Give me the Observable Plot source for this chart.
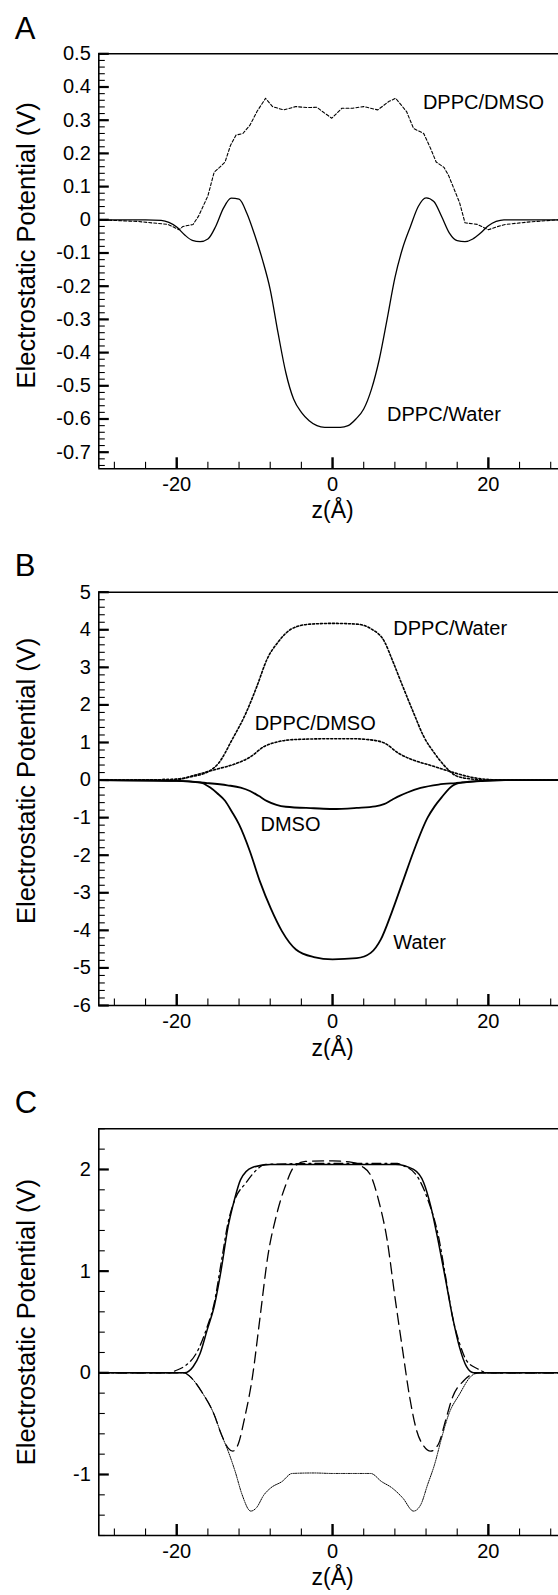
<!DOCTYPE html>
<html><head><meta charset="utf-8">
<script src="https://cdn.jsdelivr.net/npm/d3@7"></script>
<script src="https://cdn.jsdelivr.net/npm/@observablehq/plot@0.6"></script>
<style>
html,body{margin:0;padding:0;background:#fff;}
#wrap{position:relative;width:558px;height:1595px;overflow:hidden;background:#fff;}
.panel{position:absolute;left:0;}
</style></head><body><div id="wrap"></div>
<script>
// ---------- shared ----------
const xDomain = [-30, 29];
const xTicks = [-20, 0, 20];
const xMinor = [-28, -24, -20, -16, -12, -8, -4, 0, 4, 8, 12, 16, 20, 24, 28];
const yTitle = "Electrostatic Potential (V)";
const xTitle = "z(Å)";

// ---------- Panel A ----------
const yTicksA = [0.5, 0.4, 0.3, 0.2, 0.1, 0, -0.1, -0.2, -0.3, -0.4, -0.5, -0.6, -0.7];
const zWaterA = [-30,-24,-22,-21,-20,-19,-18,-17,-16,-15,-14,-13,-12,-11,-10,-9,-8,-7,-6,-5,-4,-3,-2,-1,0,1,2,3,4,5,6,7,8,9,10,11,12,13,14,15,16,17,18,19,20,21,22,24,29];
const vWaterA = [0,0,-0.002,-0.008,-0.022,-0.045,-0.062,-0.066,-0.058,-0.02,0.035,0.065,0.062,0.02,-0.045,-0.12,-0.21,-0.34,-0.46,-0.54,-0.58,-0.605,-0.62,-0.625,-0.625,-0.625,-0.62,-0.6,-0.57,-0.51,-0.42,-0.3,-0.175,-0.085,-0.02,0.04,0.066,0.055,0.01,-0.04,-0.063,-0.066,-0.058,-0.04,-0.018,-0.005,0,0,0];
const zDmsoA = [-30,-25,-21.1,-19.7,-19.2,-17.9,-17.2,-16.0,-15.2,-14.5,-13.8,-13.1,-12.4,-11.5,-10.6,-9.7,-8.6,-7.7,-6.3,-4.7,-3.3,-2.0,-1.3,-0.1,1.2,2.6,4.0,5.8,7.2,8.1,9.5,10.4,11.7,12.6,13.3,14.3,14.9,16.3,17.0,18.6,20.0,21.1,22.2,25,29];
const vDmsoA = [0,-0.005,-0.014,-0.03,-0.02,-0.014,0.011,0.072,0.143,0.158,0.174,0.224,0.255,0.26,0.285,0.326,0.366,0.341,0.331,0.341,0.338,0.339,0.326,0.306,0.336,0.336,0.341,0.331,0.356,0.366,0.326,0.275,0.26,0.214,0.174,0.158,0.133,0.052,-0.009,-0.014,-0.03,-0.021,-0.014,-0.007,0];
const labelTextA = ["DPPC/DMSO", "DPPC/Water"];
const labelZA = [11.6, 7.0];
const labelVA = [0.334, -0.607];

// ---------- Panel B ----------
const yTicksB = [5, 4, 3, 2, 1, 0, -1, -2, -3, -4, -5, -6];
const zPwB = [-30,-22,-19.7,-18.4,-16.1,-14.7,-12.9,-11.1,-9.7,-8.4,-7.0,-5.2,-2.9,0,3.1,4.9,6.7,7.6,9.0,10.4,11.7,13.1,14.5,15.8,17.7,20,29];
const vPwB = [0,0.01,0.02,0.08,0.21,0.43,1.07,1.79,2.5,3.22,3.67,4.03,4.15,4.17,4.15,4.03,3.67,3.23,2.5,1.79,1.16,0.71,0.35,0.12,0.03,0,0];
const zPdB = [-30,-22,-19.8,-17,-14.7,-12.5,-10.6,-8.8,-7.0,-4.7,0,2.5,4.9,6.7,8.5,10.4,12.6,14.9,17.7,20.4,23,29];
const vPdB = [0,0.01,0.03,0.17,0.3,0.43,0.61,0.89,1.02,1.08,1.1,1.1,1.07,0.98,0.71,0.53,0.39,0.24,0.08,0.01,0,0];
const zDmsoB = [-30,-20,-16.1,-13.5,-11.8,-10.6,-9.5,-8.4,-7.2,-6.0,-2.4,0,3.1,5.5,6.6,7.6,8.6,9.6,11.3,13.6,15.8,19,22.2,29];
const vDmsoB = [0,-0.02,-0.08,-0.14,-0.2,-0.29,-0.42,-0.56,-0.66,-0.71,-0.75,-0.77,-0.74,-0.7,-0.64,-0.53,-0.42,-0.33,-0.21,-0.12,-0.08,-0.03,0,0];
const zWaterB = [-30,-20,-17,-15.7,-14.8,-13.8,-12.9,-12.0,-10.6,-9.3,-7.9,-6.5,-4.7,-2.4,0,3.1,4.9,6.2,7.6,9.0,10.4,12.2,13.1,14.0,15.4,16.8,19,22,29];
const vWaterB = [0,-0.02,-0.06,-0.2,-0.35,-0.55,-0.85,-1.18,-1.9,-2.71,-3.43,-4.02,-4.51,-4.71,-4.77,-4.74,-4.6,-4.24,-3.52,-2.71,-1.9,-1.0,-0.7,-0.46,-0.15,-0.06,-0.02,0,0];
const labelTextB = ["DPPC/Water", "DPPC/DMSO", "DMSO", "Water"];
const labelZB = [7.8, -10.0, -9.25, 7.8];
const labelVB = [3.86, 1.32, -1.36, -4.5];

// ---------- Panel C ----------
const yTicksC = [2, 1, 0, -1];
const zSolidC = [-30,-19,-17.9,-17.0,-16.1,-15.2,-14.3,-13.4,-12.6,-11.8,-10.3,-8,0,8.1,10.4,11.7,12.6,13.6,14.5,15.4,16.3,17.2,18.1,29];
const vSolidC = [0,0,0.06,0.19,0.42,0.65,1.01,1.44,1.7,1.9,2.02,2.05,2.05,2.05,2.0,1.87,1.64,1.28,0.92,0.55,0.25,0.06,0,0];
const zDashDotC = [-30,-21,-20.2,-18.9,-17.5,-16.1,-15.2,-14.3,-13.4,-12.5,-11.1,-9.7,-8.6,0,8.3,9.0,10.8,12.2,13.6,14.5,15.4,16.3,17.2,18.6,20,29];
const vDashDotC = [0,0,0.02,0.07,0.19,0.45,0.68,1.08,1.48,1.71,1.87,2.0,2.05,2.06,2.06,2.04,1.94,1.71,1.34,0.95,0.55,0.29,0.12,0.04,0,0];
const zDashC = [-30,-19,-18.4,-16.6,-15.2,-14.3,-13.4,-12.8,-12.1,-11.3,-10.3,-9.3,-8.3,-7.2,-6.0,-5.0,-3.5,0,2.5,3.8,4.9,6.0,7.0,8.0,9.0,9.9,10.8,11.7,12.6,13.6,14.5,15.4,16.8,18.1,19,29];
const vDashC = [0,0,-0.03,-0.21,-0.41,-0.6,-0.74,-0.77,-0.7,-0.45,-0.05,0.55,1.15,1.55,1.85,2.02,2.08,2.085,2.07,2.03,1.94,1.67,1.31,0.75,0.22,-0.24,-0.57,-0.72,-0.77,-0.7,-0.47,-0.24,-0.08,-0.01,0,0];
const zDotC = [-30,-19,-18.4,-16.6,-15.2,-14.3,-13.4,-12.5,-11.6,-10.5,-9.8,-8.8,-7.9,-6.5,-5.2,-2.4,0,3.1,4.9,6.3,7.6,9.0,10.4,11.3,12.2,13.1,14.0,14.9,16.3,17.7,18.6,29];
const vDotC = [0,0,-0.03,-0.21,-0.41,-0.6,-0.77,-0.97,-1.2,-1.36,-1.33,-1.2,-1.13,-1.07,-0.99,-0.985,-0.99,-0.99,-0.99,-1.07,-1.13,-1.23,-1.36,-1.3,-1.1,-0.9,-0.64,-0.41,-0.21,-0.04,0,0];

// ---------- helpers ----------
const rows = (zs, vs) => zs.map((z, i) => ({z, v: vs[i]}));
const labelRows = (ts, zs, vs) => ts.map((t, i) => ({t, z: zs[i], v: vs[i]}));
const FONT = "'Liberation Sans', Arial, Helvetica, sans-serif";
const WIDTH = 558, MARGIN_LEFT = 98.3;

function panel(cfg) {
  const {top, height, marginTop, marginBottom, yDomain, yMajor, yMinor, yFmt,
         series, labels, letter, letterDy, titleDy, xTitleDy} = cfg;
  const marks = [
    // frame lines (left, top, bottom)
    Plot.ruleX([xDomain[0]], {stroke: "black", strokeWidth: 1.6}),
    Plot.ruleY([yDomain[0]], {stroke: "black", strokeWidth: 1.6}),
    Plot.ruleY([yDomain[1]], {stroke: "black", strokeWidth: 1.6}),
    // y ticks pointing inward (negative tick size) from the left frame
    Plot.axisY(yMinor, {anchor: "left", tickSize: -6.5, fill: "none", stroke: "black", strokeWidth: 1.1, label: null}),
    Plot.axisY(yMajor, {anchor: "left", tickSize: -10.5, fill: "none", stroke: "black", strokeWidth: 2.2, label: null}),
    Plot.axisY(yMajor, {anchor: "left", tickSize: 0, tickPadding: 8, tickFormat: yFmt, fontSize: 20, fill: "black", label: null}),
    // x ticks pointing inward from the bottom frame
    Plot.axisX(xMinor, {anchor: "bottom", tickSize: -6.5, fill: "none", stroke: "black", strokeWidth: 1.1, label: null}),
    Plot.axisX(xTicks, {anchor: "bottom", tickSize: -11, fill: "none", stroke: "black", strokeWidth: 2.4, label: null}),
    Plot.axisX(xTicks, {anchor: "bottom", tickSize: 0, tickPadding: 8, tickFormat: d => String(d), fontSize: 20, fill: "black", label: null}),
    // curves
    ...series.map(s => Plot.line(rows(s.z, s.v), {x: "z", y: "v", stroke: "black", strokeWidth: s.w, strokeDasharray: s.dash, curve: s.curve || "monotone-x"})),
    // in-plot labels
    Plot.text(labelRows(labels.t, labels.z, labels.v), {x: "z", y: "v", text: "t", textAnchor: "start", lineAnchor: "bottom", fontSize: 20, fill: "black"}),
    // titles
    Plot.text([yTitle], {frameAnchor: "left", rotate: -90, textAnchor: "middle", lineAnchor: "bottom", dx: -64, dy: titleDy, fontSize: 25.5, fill: "black"}),
    Plot.text([xTitle], {frameAnchor: "bottom", textAnchor: "middle", lineAnchor: "bottom", dx: 4, dy: xTitleDy, fontSize: 23, fill: "black"}),
    Plot.text([letter], {frameAnchor: "top-left", textAnchor: "start", lineAnchor: "bottom", dx: -84, dy: letterDy, fontSize: 31, fill: "black"})
  ];
  const chart = Plot.plot({
    width: WIDTH, height, marginTop, marginBottom, marginLeft: MARGIN_LEFT, marginRight: 0,
    x: {domain: xDomain},
    y: {domain: yDomain},
    style: {fontFamily: FONT, fontSize: "20px", color: "black", background: "white", overflow: "visible"},
    marks
  });
  const div = document.createElement("div");
  div.className = "panel";
  div.style.top = top + "px";
  div.appendChild(chart);
  document.getElementById("wrap").appendChild(div);
}

panel({
  top: 0, height: 530, marginTop: 53.3, marginBottom: 61.7,
  yDomain: [-0.75, 0.5], yMajor: yTicksA, yMinor: d3.range(-37, 26).map(i => i / 50),
  yFmt: d => String(Math.round(d * 10) / 10),
  series: [
    {z: zWaterA, v: vWaterA, w: 1.3, dash: null, curve: "monotone-x"},
    {z: zDmsoA, v: vDmsoA, w: 1.1, dash: "3,2", curve: "linear"}
  ],
  labels: {t: labelTextA, z: labelZA, v: labelVA},
  letter: "A", letterDy: -15.3, titleDy: -16, xTitleDy: 48.7
});

panel({
  top: 530, height: 530, marginTop: 61.7, marginBottom: 55,
  yDomain: [-6, 5], yMajor: yTicksB, yMinor: d3.range(-30, 26).map(i => i / 5),
  yFmt: d => String(d),
  series: [
    {z: zPwB, v: vPwB, w: 1.6, dash: "2,2"},
    {z: zPdB, v: vPdB, w: 1.6, dash: "2,2"},
    {z: zDmsoB, v: vDmsoB, w: 1.8, dash: null},
    {z: zWaterB, v: vWaterB, w: 1.8, dash: null}
  ],
  labels: {t: labelTextB, z: labelZB, v: labelVB},
  letter: "B", letterDy: -16.7, titleDy: -18, xTitleDy: 50
});

panel({
  top: 1060, height: 535, marginTop: 68.3, marginBottom: 60,
  yDomain: [-1.6, 2.4], yMajor: yTicksC, yMinor: d3.range(-8, 13).map(i => i / 5),
  yFmt: d => String(d),
  series: [
    {z: zSolidC, v: vSolidC, w: 1.5, dash: null},
    {z: zDashDotC, v: vDashDotC, w: 1.3, dash: "9,4,2,4"},
    {z: zDashC, v: vDashC, w: 1.3, dash: "11,6"},
    {z: zDotC, v: vDotC, w: 1.0, dash: "1.2,1.2"}
  ],
  labels: {t: [], z: [], v: []},
  letter: "C", letterDy: -15.8, titleDy: -10, xTitleDy: 49
});
</script></body></html>
